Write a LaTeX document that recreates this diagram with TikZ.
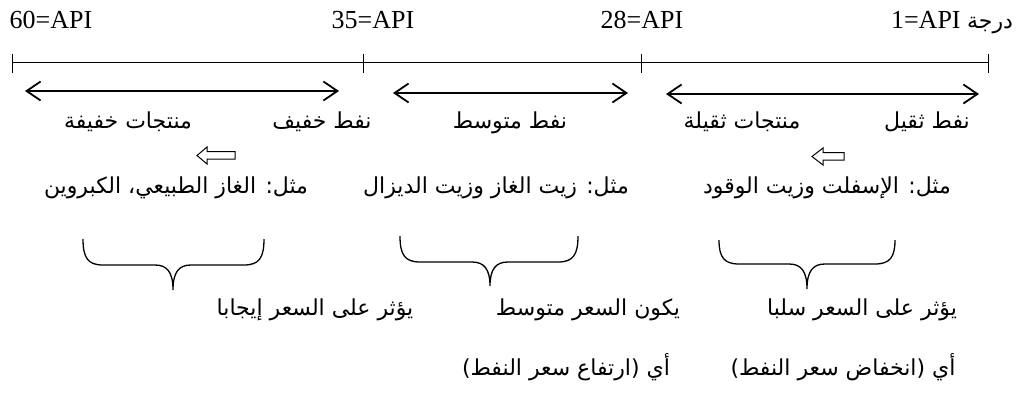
\documentclass[tikz,border=0pt]{standalone}
\usepackage{fontspec}
\setmainfont{Liberation Serif}
\newfontfamily\arabicfont[Script=Arabic]{DejaVu Sans}
\TeXXeTstate=1
\usetikzlibrary{arrows.meta}
\tikzset{
  api/.style={font=\fontsize{26}{30}\selectfont, inner sep=0pt, anchor=base},
  ar/.style={font=\arabicfont\fontsize{22}{26}\selectfont, inner sep=0pt, anchor=base},
  axisline/.style={line width=1pt},
  dblarrow/.style={line width=1.8pt, {Straight Barb[length=14pt,width=19pt]}-{Straight Barb[length=14pt,width=19pt]}},
  bracestyle/.style={line width=1.3pt},
  hollowarrow/.style={line width=1pt},
}
\newcommand\downbrace[6]{% left x, tip x, right x, top y, horizontal y, tip y
  \draw[bracestyle] (#1,#4) .. controls (#1,#5-7) and (#1+5,#5) .. (#1+20,#5)
    -- (#2-18,#5) .. controls (#2-6,#5) and (#2,#5+7) .. (#2,#6)
    .. controls (#2,#5+7) and (#2+6,#5) .. (#2+18,#5)
    -- (#3-20,#5) .. controls (#3-5,#5) and (#3,#5-7) .. (#3,#4);
}
\begin{document}
\begin{tikzpicture}[x=1pt,y=-1pt]
\useasboundingbox (0,0) rectangle (1018,397);
% API labels
\node[api] (l60) at (51,28) {60=API};
\node[api] (l35) at (373,28) {35=API};
\node[api] (l28) at (642,28) {28=API};
\node[api] (l1) at (952,28) {1=API {\arabicfont\fontsize{22}{26}\selectfont\beginR درجة\endR}};
% axis
\coordinate (t0) at (12,62);
\coordinate (t1) at (363,62);
\coordinate (t2) at (641,62);
\coordinate (t3) at (988,62);
\draw[axisline] (t0) -- (t3);
\foreach \t in {t0,t1,t2,t3} \draw[axisline] ([yshift=-11pt]\t.center) -- ([yshift=8pt]\t.center);
% double arrows
\coordinate (a1l) at (25,91);  \coordinate (a1r) at (339,91);
\coordinate (a2l) at (393,93); \coordinate (a2r) at (628,93);
\coordinate (a3l) at (666,94); \coordinate (a3r) at (979,94);
\draw[dblarrow] (a1l) -- (a1r);
\draw[dblarrow] (a2l) -- (a2r);
\draw[dblarrow] (a3l) -- (a3r);
% row 1
\node[ar] (light) at (322,128) {\beginR نفط خفيف\endR};
\node[ar] (lightp) at (128,128) {\beginR منتجات خفيفة\endR};
\node[ar] (medium) at (510,128) {\beginR نفط متوسط\endR};
\node[ar] (heavy) at (927,128) {\beginR نفط ثقيل\endR};
\node[ar] (heavyp) at (742,128) {\beginR منتجات ثقيلة\endR};
% hollow arrows
\draw[hollowarrow] (197,155.5) -- (207,147) -- (207,151.5) -- (235,151.5) -- (235,159) -- (207,159) -- (207,164) -- cycle;
\draw[hollowarrow] (812,156.5) -- (823,148) -- (823,152.5) -- (844,152.5) -- (844,160) -- (823,160) -- (823,165) -- cycle;
% row 2
\node[ar] (ex1) at (176,193) {\beginR مثل: الغاز الطبيعي، الكبروين\endR};
\node[ar] (ex2) at (496,193) {\beginR مثل: زيت الغاز وزيت الديزال\endR};
\node[ar] (ex3) at (827,193) {\beginR مثل: الإسفلت وزيت الوقود\endR};
% braces
\downbrace{83}{173}{264}{239}{265}{290}
\downbrace{400}{490}{578}{236}{262}{286}
\downbrace{719}{807}{895}{240}{264}{289}
% row 3
\node[ar] (eff1) at (315,315) {\beginR يؤثر على السعر إيجابا\endR};
\node[ar] (eff2) at (588,315) {\beginR يكون السعر متوسط\endR};
\node[ar] (eff3) at (862,315) {\beginR يؤثر على السعر سلبا\endR};
% row 4
\node[ar] (res1) at (566,375) {\beginR أي (ارتفاع سعر النفط)\endR};
\node[ar] (res2) at (843,375) {\beginR أي (انخفاض سعر النفط)\endR};
\end{tikzpicture}
\end{document}
